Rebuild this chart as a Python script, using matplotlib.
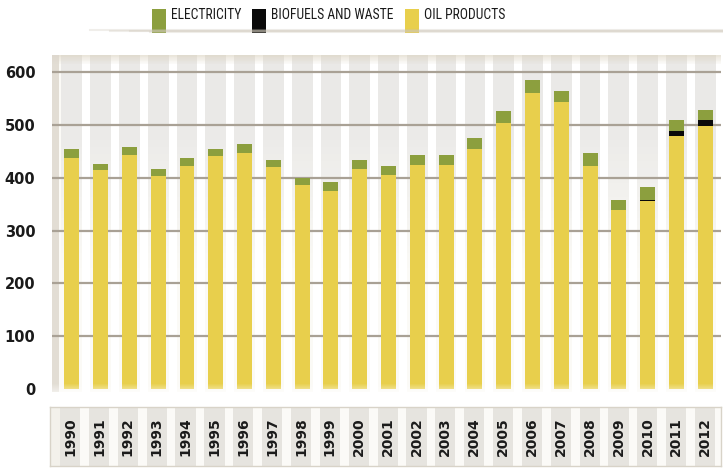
import matplotlib.pyplot as plt
from matplotlib.patches import Rectangle
import numpy as np

years = [str(y) for y in range(1990, 2013)]
oil = [438, 414, 444, 403, 423, 441, 448, 420, 386, 376, 416, 406, 424, 424, 454,
       505, 561, 544, 423, 340, 356, 479, 499]
bio = [0, 0, 0, 0, 0, 0, 0, 0, 0, 0, 0, 0, 0, 0, 0, 0, 0, 0, 0, 0, 3, 9, 10]
elec = [16, 13, 14, 13, 15, 13, 17, 13, 14, 17, 17, 16, 20, 20, 21,
        21, 24, 20, 24, 19, 23, 21, 20]
legend_names = ['ELECTRICITY', 'BIOFUELS AND WASTE', 'OIL PRODUCTS']

c_oil = '#E8CF4C'
c_bio = '#0A0A0A'
c_elec = '#8C9F3E'
c_stripe = '#EAE9E7'

W, H = 723, 468
fig = plt.figure(figsize=(W / 100, H / 100), dpi=100)
fig.patch.set_facecolor('white')

# main axes
ax = fig.add_axes([52 / W, 1 - 392 / H, (721 - 52) / W, (392 - 55) / H])
x = np.arange(len(years))
ax.set_xlim(-0.69, 22.55)
ax.set_ylim(-6, 633)
ax.set_facecolor('#FBFAF6')

# grey column stripes, fading downwards
top = 633
n = 30
for k in range(n):
    y0 = 230 + (top - 230) * k / n
    a = (k + 1) / n
    ax.bar(x, (top - 230) / n, bottom=y0, width=0.72, color=c_stripe,
           alpha=min(1, a * 1.4), zorder=0, linewidth=0)
# white gaps
ax.bar(x + 0.5, top + 10, bottom=-10, width=0.28, color='white', zorder=0.5, linewidth=0)

# beige top band
for k in range(12):
    ax.axhspan(633 - (k + 1) * 1.5, 633 - k * 1.5, color='#D9D0BC',
               alpha=0.55 * (1 - k / 12), zorder=0.6, linewidth=0)

# gridlines
for v in range(100, 700, 100):
    ax.axhline(v, color='#A9A195', lw=1.6, zorder=1)

ax.bar(x, oil, width=0.52, color=c_oil, zorder=2, linewidth=0)
ax.bar(x, bio, bottom=oil, width=0.52, color=c_bio, zorder=2, linewidth=0)
ax.bar(x, elec, bottom=np.array(oil) + np.array(bio), width=0.52, color=c_elec,
       zorder=2, linewidth=0)

# bottom fade (white-ish) near 0
for k in range(8):
    ax.axhspan(-6 + k * 2, -6 + (k + 1) * 2, color='white', alpha=0.5 * (1 - k / 8),
               zorder=3, linewidth=0)

# left shaded edge
ax.axvspan(-0.69, -0.45, color='#DCD6CC', alpha=0.8, zorder=0.7, linewidth=0)

for s in ax.spines.values():
    s.set_visible(False)
ax.set_yticks(range(0, 700, 100))
ax.set_yticklabels([str(v) for v in range(0, 700, 100)], fontsize=10.5,
                   fontweight='bold', color='#1A1A1A')
ax.tick_params(axis='y', length=0, pad=12)
ax.tick_params(axis='x', length=0, labelbottom=False)

# year label box
ax2 = fig.add_axes([50 / W, 1 - 466 / H, (721 - 50) / W, (466 - 407) / H])
ax2.set_xlim(-0.69 - 2 * 0.0036, 22.55)
ax2.set_ylim(0, 1)
ax2.set_facecolor('#F3F1EB')
ax2.bar(x, 1, width=0.7, color='#E6E4DF', zorder=0, linewidth=0)
ax2.bar(x + 0.5, 1, width=0.3, color='#FBFAF7', zorder=0, linewidth=0)
for s in ax2.spines.values():
    s.set_color('#D8D3C8')
    s.set_linewidth(1)
ax2.set_yticks([])
ax2.set_xticks([])
for i, yr in enumerate(years):
    ax2.text(i, 0.5, yr, rotation=90, ha='center', va='center', fontsize=10,
             fontweight='bold', color='#1A1A1A')

# legend shadow line
for k in range(4):
    fig.add_artist(plt.Line2D([(90 + k * 20) / W, 1], [1 - (30 + k * 0.5) / H] * 2,
                              transform=fig.transFigure, color='#CFC8BA', lw=1.5,
                              alpha=0.3))
leg_x = [152, 252, 405]
leg_c = [c_elec, c_bio, c_oil]
for lx, lc, name in zip(leg_x, leg_c, legend_names):
    fig.add_artist(Rectangle((lx / W, 1 - 33 / H), 14 / W, 24 / H,
                             transform=fig.transFigure, color=lc, linewidth=0))
    fig.text((lx + 19) / W, 1 - 15 / H, name, fontsize=9.8, va='center', ha='left',
             family=['Roboto Condensed', 'Roboto'], color='#1A1A1A')

fig.savefig('out.png', dpi=100)
